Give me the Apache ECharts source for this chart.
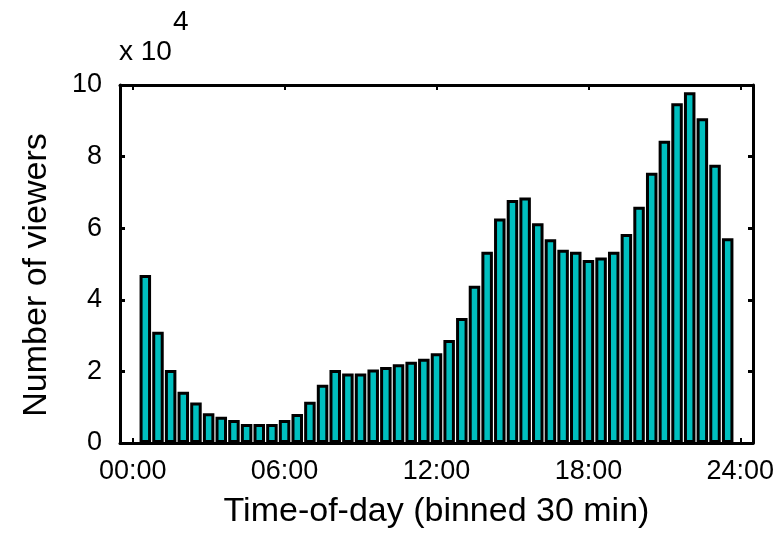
<!DOCTYPE html>
<html>
<head>
<meta charset="utf-8">
<script src="https://cdn.jsdelivr.net/npm/echarts@6/dist/echarts.min.js"></script>
<style>
  html, body { margin: 0; padding: 0; background: #fff; }
  #chart { width: 780px; height: 542px; }
</style>
</head>
<body>
<div id="chart"></div>
<script>
// 每个柱子 = 30 分钟的观众数
var binMinutes = 30;
var firstBinHour = 0.5;
var viewers = [
  46900, 31100, 20400, 14300, 11300, 8300, 7300, 6400, 5300, 5300,
  5300, 6400, 8100, 11500, 16300, 20400, 19400, 19400, 20500, 21200,
  22000, 22700, 23500, 25100, 28800, 34900, 43900, 53400, 62700, 67900,
  68600, 61400, 56900, 54000, 53400, 51100, 51800, 53400, 58400, 66000,
  75500, 84400, 94900, 98000, 90700, 77700, 57200
];
var tickHours = [0, 6, 12, 18, 24];

var barColor = '#00bfbf';
var fontName = 'Liberation Sans';

var barData = viewers.map(function (v, i) {
  return [firstBinHour + i * binMinutes / 60, v];
});

function hourLabel(h) {
  return (h < 10 ? '0' + h : '' + h) + ':00';
}

var chart = echarts.init(document.getElementById('chart'));

var frameLine = { show: true, onZero: false, lineStyle: { color: '#000', width: 3 } };

var option = {
  animation: false,
  backgroundColor: '#fff',
  grid: { left: 120, right: 27, top: 85, bottom: 99 },
  graphic: [
    {
      type: 'text', left: 119, top: 38,
      style: { text: 'x 10', font: '28px "Liberation Sans"', fill: '#000' }
    },
    {
      type: 'text', left: 173, top: 8,
      style: { text: '4', font: '28px "Liberation Sans"', fill: '#000' }
    }
  ],
  xAxis: [
    {
      type: 'value', min: -0.5, max: 24.5,
      name: 'Time-of-day (binned 30 min)',
      nameLocation: 'middle', nameGap: 52,
      nameTextStyle: { fontFamily: fontName, fontSize: 34, color: '#000' },
      axisLine: frameLine,
      axisTick: { show: true, inside: true, length: 5, customValues: tickHours,
        lineStyle: { color: '#000', width: 2 } },
      axisLabel: { customValues: tickHours, margin: 15, formatter: hourLabel,
        fontFamily: fontName, fontSize: 27, color: '#000' },
      splitLine: { show: false }
    },
    {
      type: 'value', position: 'top', min: -0.5, max: 24.5,
      axisLine: frameLine,
      axisTick: { show: true, inside: true, length: 5, customValues: tickHours,
        lineStyle: { color: '#000', width: 2 } },
      axisLabel: { show: false },
      splitLine: { show: false }
    }
  ],
  yAxis: [
    {
      type: 'value', min: 0, max: 100000, interval: 20000,
      name: 'Number of viewers',
      nameLocation: 'middle', nameGap: 66,
      nameTextStyle: { fontFamily: fontName, fontSize: 34, color: '#000', padding: [0, 22, 0, 0] },
      axisLine: frameLine,
      axisTick: { show: true, inside: true, length: 5, lineStyle: { color: '#000', width: 3 } },
      axisLabel: { margin: 18, formatter: function (v) { return v / 10000; },
        fontFamily: fontName, fontSize: 27, color: '#000' },
      splitLine: { show: false }
    },
    {
      type: 'value', position: 'right', min: 0, max: 100000, interval: 20000,
      axisLine: frameLine,
      axisTick: { show: true, inside: true, length: 5, lineStyle: { color: '#000', width: 3 } },
      axisLabel: { show: false },
      splitLine: { show: false }
    }
  ],
  series: [
    {
      type: 'bar',
      data: barData,
      barWidth: 11.5,
      itemStyle: { color: barColor, borderColor: '#000', borderWidth: 3 }
    }
  ]
};

chart.setOption(option);
</script>
</body>
</html>
